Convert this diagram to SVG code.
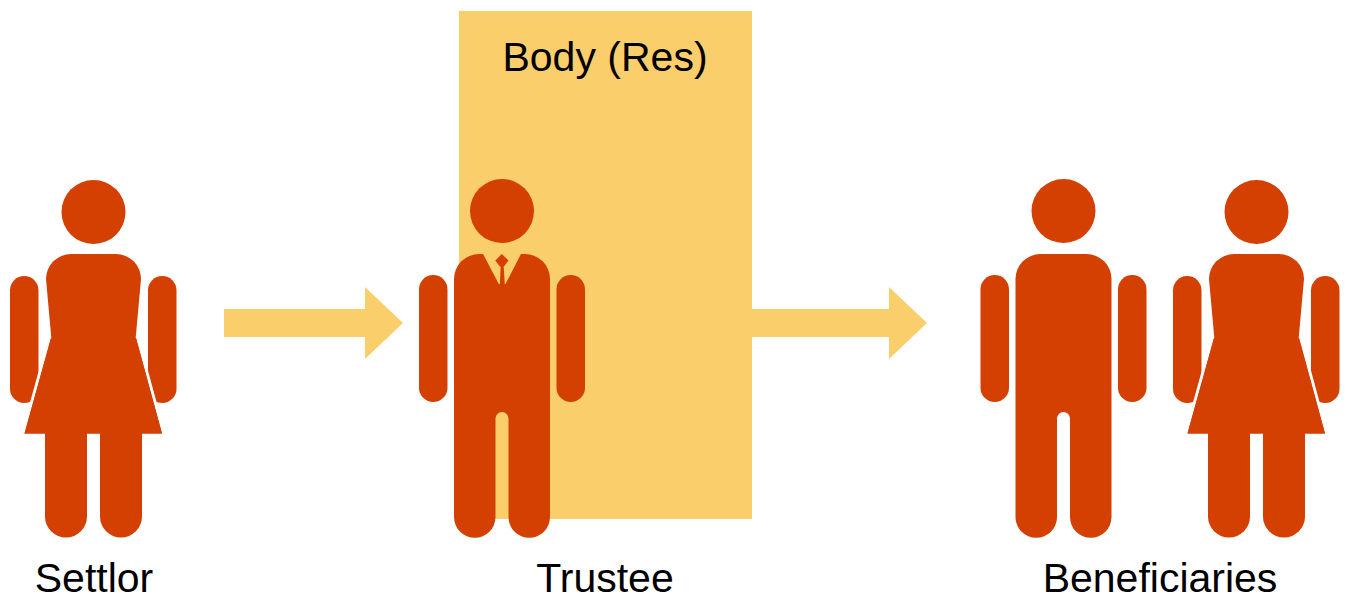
<svg xmlns="http://www.w3.org/2000/svg" width="1346" height="597" viewBox="0 0 1346 597">
<style>
.f{fill:#d43f02}
.a{fill:#fbce6c}
text{font-family:"Liberation Sans",Arial,sans-serif;font-size:41px;fill:#000;text-anchor:middle}
</style>
<defs>
<g id="woman" class="f">
<circle cx="93.500" cy="212" r="32"/>
<rect x="10" y="276" width="28.500" height="127" rx="14.250"/>
<rect x="148" y="276" width="28.500" height="127" rx="14.250"/>
<path d="M51 338L136 338L162 433.500H24.500Z" stroke="#fff" stroke-width="6" paint-order="stroke"/>
<path d="M51 338L136 338L162 433.500H24.500Z"/>
<path d="M46 279A25 25 0 0 1 71 254H116A25 25 0 0 1 141 279L135.500 340H51.500Z"/>
<path d="M45 431H87V516.500A21 21 0 0 1 45 516.500Z"/>
<path d="M100 431H142V516.500A21 21 0 0 1 100 516.500Z"/>
</g>
<g id="man" class="f">
<circle cx="502" cy="211" r="32"/>
<rect x="419" y="275" width="28.500" height="127" rx="14.250"/>
<rect x="556.500" y="275" width="28.500" height="127" rx="14.250"/>
<path d="M454 279A25 25 0 0 1 479 254H525A25 25 0 0 1 550 279V517A20.750 20.750 0 0 1 508.500 517V418.500A6.500 6.500 0 0 0 495.500 418.500V517A20.750 20.750 0 0 1 454 517Z"/>
</g>
</defs>
<g id="body-res">
<rect class="a" x="459" y="11" width="293" height="508"/>
<text x="605" y="71">Body (Res)</text>
</g>
<g id="connectors" class="a">
<path id="c1" d="M224 309H365V287L403 323L365 359V337H224Z"/>
<path id="c2" d="M752 309H889V287L927 323L889 359V337H752Z"/>
</g>
<g id="settlor">
<use href="#woman"/>
<text x="94" y="592">Settlor</text>
</g>
<g id="trustee">
<use href="#man"/>
<path d="M482 252H522L505.500 284H504.800L503.500 264H500.800L499.800 284H498.800Z" class="a"/>
<path d="M501.800 254L508.500 260.500L504 266.500H499.800L495.300 260.500Z" class="f"/>
<text x="605" y="592">Trustee</text>
</g>
<g id="beneficiaries">
<use href="#man" x="561.500"/>
<use href="#woman" x="1163"/>
<text x="1160" y="592">Beneficiaries</text>
</g>
</svg>
